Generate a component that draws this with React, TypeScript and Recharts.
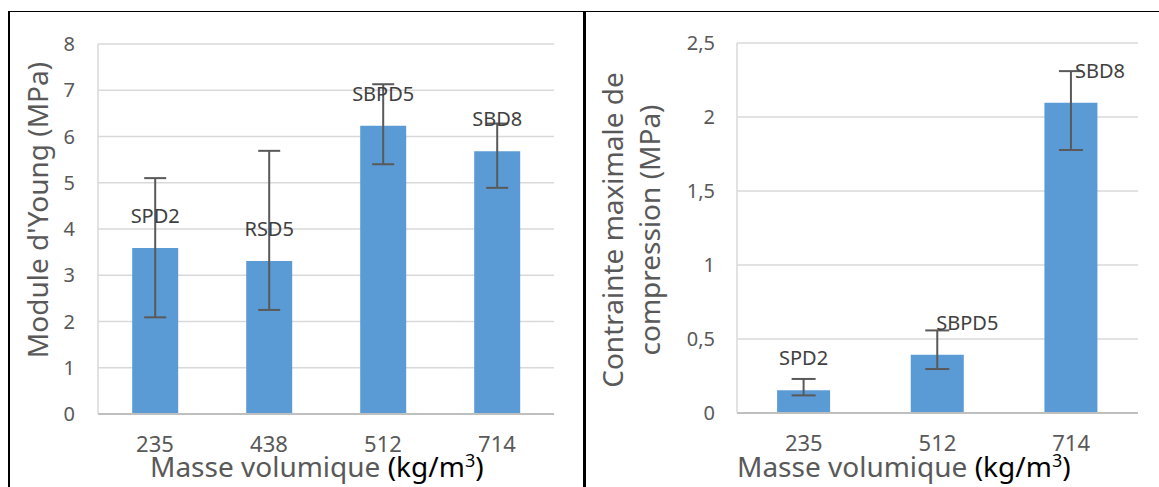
import React from 'react';
import { BarChart, Bar, XAxis, YAxis, CartesianGrid, ErrorBar, LabelList } from 'recharts';

const FONT = '"Noto Sans", "Open Sans", sans-serif';

// left chart: Young's modulus
const youngCategories = ['235', '438', '512', '714'];
const youngValues = [3.59, 3.31, 6.23, 5.68];
const youngErrLow = [1.5, 1.06, 0.83, 0.79];
const youngErrHigh = [1.51, 2.38, 0.9, 0.6];
const youngNames = ['SPD2', 'RSD5', 'SBPD5', 'SBD8'];
const youngTicks = [0, 1, 2, 3, 4, 5, 6, 7, 8];

// right chart: max compressive stress
const stressCategories = ['235', '512', '714'];
const stressValues = [0.153, 0.394, 2.097];
const stressErrLow = [0.034, 0.097, 0.32];
const stressErrHigh = [0.077, 0.164, 0.213];
const stressNames = ['SPD2', 'SBPD5', 'SBD8'];
const stressTicks = [0, 0.5, 1, 1.5, 2, 2.5];

// label nudges (px), style only
const youngLabelShift = [0, 0, 0, 0];
const stressLabelShift = [0, 30, 29];

const youngData = youngCategories.map((c, i) => ({
  cat: c, value: youngValues[i], err: [youngErrLow[i], youngErrHigh[i]], name: youngNames[i],
}));
const stressData = stressCategories.map((c, i) => ({
  cat: c, value: stressValues[i], err: [stressErrLow[i], stressErrHigh[i]], name: stressNames[i],
}));

const makeLabel = (shifts: number[]) => (props: any) => {
  const { x, y, width, index, value } = props;
  const dx = shifts[index ?? 0] ?? 0;
  return (
    <text x={Number(x) + Number(width) / 2 + dx} y={Number(y) - 25} textAnchor="middle"
      fill="#404040" fontSize={20} fontFamily={FONT}>{value}</text>
  );
};

const tickX = { fill: '#595959', fontSize: 22, fontFamily: FONT };
const tickY = { fill: '#595959', fontSize: 20, fontFamily: FONT };
const comma = (v: number) => String(v).replace('.', ',');

function XTitle({ left }: { left: number }) {
  return (
    <div style={{ position: 'absolute', left, top: 448, fontFamily: FONT, fontSize: 28, color: '#595959', whiteSpace: 'nowrap', lineHeight: '36px' }}>
      Masse volumique <span style={{ color: '#000' }}>(kg/m<sup style={{ fontSize: 18, lineHeight: 0 }}>3</sup>)</span>
    </div>
  );
}

export default function App() {
  return (
    <div style={{ position: 'absolute', left: 0, top: 0, width: 1159, height: 487, background: '#fff', overflow: 'hidden' }}>
      {/* frame */}
      <div style={{ position: 'absolute', left: 8, top: 11, width: 1151, height: 1, background: '#000' }} />
      <div style={{ position: 'absolute', left: 8, top: 11, width: 2, height: 476, background: '#000' }} />
      <div style={{ position: 'absolute', left: 583, top: 11, width: 3, height: 476, background: '#000' }} />

      <div style={{ position: 'absolute', left: 0, top: 0 }}>
        <BarChart width={580} height={487} data={youngData} barCategoryGap="30%"
          margin={{ top: 44, right: 26, bottom: 43, left: 0 }}>
          <CartesianGrid vertical={false} stroke="#d9d9d9" strokeWidth={1.5} />
          <XAxis dataKey="cat" height={30} tick={tickX} tickLine={false} tickSize={0} tickMargin={22}
            axisLine={{ stroke: '#bfbfbf', strokeWidth: 2 }} />
          <YAxis width={98} domain={[0, 8]} ticks={youngTicks} tick={tickY} tickLine={false} tickSize={0}
            tickMargin={23} axisLine={{ stroke: '#d9d9d9', strokeWidth: 1.5 }} />
          <Bar dataKey="value" fill="#5b9bd5" isAnimationActive={false}>
            <ErrorBar dataKey="err" width={11} strokeWidth={2} stroke="#595959" />
            <LabelList dataKey="name" content={makeLabel(youngLabelShift)} />
          </Bar>
        </BarChart>
      </div>

      <div style={{ position: 'absolute', left: 580, top: 0 }}>
        <BarChart width={579} height={487} data={stressData} barCategoryGap="30%"
          margin={{ top: 43, right: 21, bottom: 44, left: 0 }}>
          <CartesianGrid vertical={false} stroke="#d9d9d9" strokeWidth={1.5} />
          <XAxis dataKey="cat" height={30} tick={tickX} tickLine={false} tickSize={0} tickMargin={22}
            axisLine={{ stroke: '#bfbfbf', strokeWidth: 2 }} />
          <YAxis width={157} domain={[0, 2.5]} ticks={stressTicks} tickFormatter={comma} tick={tickY}
            tickLine={false} tickSize={0} tickMargin={22} axisLine={{ stroke: '#d9d9d9', strokeWidth: 1.5 }} />
          <Bar dataKey="value" fill="#5b9bd5" isAnimationActive={false}>
            <ErrorBar dataKey="err" width={12} strokeWidth={2} stroke="#595959" />
            <LabelList dataKey="name" content={makeLabel(stressLabelShift)} />
          </Bar>
        </BarChart>
      </div>

      {/* axis titles */}
      <div style={{ position: 'absolute', left: 37, top: 210, transform: 'translate(-50%, -50%) rotate(-90deg)', fontFamily: FONT, fontSize: 28, color: '#595959', whiteSpace: 'nowrap' }}>
        Module d'Young (MPa)
      </div>
      <div style={{ position: 'absolute', left: 631, top: 230, transform: 'translate(-50%, -50%) rotate(-90deg)', fontFamily: FONT, fontSize: 28, color: '#595959', whiteSpace: 'nowrap', textAlign: 'center', lineHeight: '37px' }}>
        Contrainte maximale de<br />compression (MPa)
      </div>
      <XTitle left={150} />
      <XTitle left={737} />
    </div>
  );
}
